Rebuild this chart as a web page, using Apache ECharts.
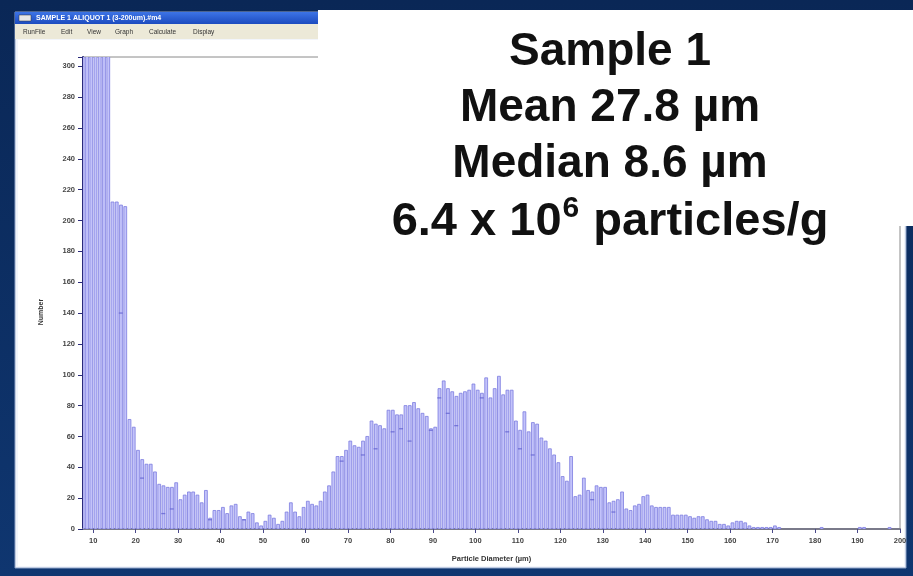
<!DOCTYPE html>
<html><head><meta charset="utf-8">
<script src="https://cdn.jsdelivr.net/npm/echarts@6/dist/echarts.min.js"></script>
<style>html,body{margin:0;padding:0;background:#0b2a5a;overflow:hidden;} #c{width:913px;height:576px;}</style>
</head><body><div id="c"></div>
<script>
// ---- data ----
const binStart = [7,8,9,10,11,12,13,14,15,16,17,18,19,20,21,22,23,24,25,26,27,28,29,30,31,32,33,34,35,36,37,38,39,40,41,42,43,44,45,46,47,48,49,50,51,52,53,54,55,56,57,58,59,60,61,62,63,64,65,66,67,68,69,70,71,72,73,74,75,76,77,78,79,80,81,82,83,84,85,86,87,88,89,90,91,92,93,94,95,96,97,98,99,100,101,102,103,104,105,106,107,108,109,110,111,112,113,114,115,116,117,118,119,120,121,122,123,124,125,126,127,128,129,130,131,132,133,134,135,136,137,138,139,140,141,142,143,144,145,146,147,148,149,150,151,152,153,154,155,156,157,158,159,160,161,162,163,164,165,166,167,168,169,170,171,172,173,174,175,176,177,178,179,180,181,182,183,184,185,186,187,188,189,190,191,192,193,194,195,196,197,198,199];
const counts = [1500,1500,1400,1200,900,700,480,212,212,210,209,
71,66,51,45,42,42,37,29,28,27,
27,30,19,22,24,24,22,17,25,7,
12,12,14,10,15,16,8,6,11,10,
4,2,5,9,7,3,5,11,17,11,
8,14,18,16,15,18,24,28,37,47,
47,51,57,54,53,57,60,70,68,67,
65,77,77,74,74,80,80,82,78,75,
73,65,66,91,96,91,89,86,88,89,
90,94,90,88,98,85,91,99,87,90,
90,70,64,76,63,69,68,59,57,52,
48,43,34,31,47,21,22,33,25,24,
28,27,27,17,18,19,24,13,12,15,
16,21,22,15,14,14,14,14,9,9,
9,9,8,7,8,8,6,5,5,3,
3,2,4,5,5,4,2,1,1,1,
1,1,2,1,0,0,0,0,0,0,
0,0,0,1,0,0,0,0,0,0,
0,0,1,1,0,0,0,0,0,1,0];
// second set of marks (small dashes inside bars)
const markX = [16.5,21.5,26.5,28.5,37.5,45.5,68.5,73.5,76.5,80.5,82.5,84.5,89.5,91.5,93.5,95.5,101.5,107.5,110.5,113.5,127.5,132.5];
const markY = [140,33,10,13,6,6,44,48,52,63,65,57,64,85,75,67,85,63,52,48,19,11];
const yTickStep = 20;
const titleText = 'SAMPLE 1 ALIQUOT 1 (3-200um).#m4';
const menuItems = ['RunFile','Edit','View','Graph','Calculate','Display'];
const menuX = [23,61,87,115,149,193];
const infoLines = ['Sample 1','Mean 27.8 µm','Median 8.6 µm'];
const xName = 'Particle Diameter (µm)';
const yName = 'Number';

const barData = binStart.map((b,i)=>[b, counts[i]]);
const markData = markX.map((x,i)=>[x, markY[i]]);

const chart = echarts.init(document.getElementById('c'), null, {renderer:'canvas'});
const FONT = '"Liberation Sans", Arial, sans-serif';
const graphics = [
  {type:'rect', z:-30, shape:{x:0,y:0,width:913,height:576}, style:{fill:new echarts.graphic.LinearGradient(0,0,0,1,[{offset:0,color:'#0a2756'},{offset:1,color:'#0f3670'}])}},
  {type:'rect', z:-20, shape:{x:15,y:12,width:891,height:556}, style:{fill:'#f2f5fb', stroke:'#8ea3c8', lineWidth:1}},
  {type:'rect', z:-19, shape:{x:15,y:12,width:891,height:12}, style:{fill:new echarts.graphic.LinearGradient(0,0,0,1,[{offset:0,color:'#3d74e6'},{offset:1,color:'#1c4bbf'}])}},
  {type:'rect', z:-18, shape:{x:19,y:15,width:12,height:6}, style:{fill:'#e6e6e6', stroke:'#333', lineWidth:0.5}},
  {type:'text', z:-18, x:36, y:18, style:{text:titleText, fill:'#ffffff', font:'bold 7px '+FONT, verticalAlign:'middle'}},
  {type:'rect', z:-19, shape:{x:15,y:24,width:891,height:15}, style:{fill:'#ece9d8'}},
  {type:'rect', z:-19, shape:{x:18,y:40,width:886,height:526}, style:{fill:'#ffffff'}}
];
menuItems.forEach((m,i)=>graphics.push({type:'text', z:-17, x:menuX[i], y:32, style:{text:m, fill:'#333', font:'6.5px '+FONT, verticalAlign:'middle'}}));
graphics.push({type:'text', z:5, x:41, y:312, rotation:Math.PI/2, style:{text:yName, fill:'#333', font:'bold 7px '+FONT, align:'center', verticalAlign:'middle'}});
// info box
graphics.push({type:'rect', z:100, shape:{x:318,y:10,width:600,height:216}, style:{fill:'#ffffff'}});
const lineY = [52,108,164];
infoLines.forEach((t,i)=>graphics.push({type:'text', z:101, x:610, y:lineY[i], style:{text:t, fill:'#111', font:'bold 46px '+FONT, align:'center', verticalAlign:'middle'}}));
graphics.push({type:'text', z:101, x:610, y:222, style:{
  text:'6.4 x 10{sup|6} particles/g', fill:'#111', font:'bold 47px '+FONT, align:'center', verticalAlign:'middle',
  rich:{sup:{fill:'#111', font:'bold 30px '+FONT, verticalAlign:'top', lineHeight:56, padding:[0,1,24,1]}}
}});

const option = {
  animation:false,
  backgroundColor:'transparent',
  graphic: graphics,
  grid:{left:83, right:13, top:57, bottom:47, show:true, borderColor:'#8a8a8a', borderWidth:1, backgroundColor:'#ffffff'},
  xAxis:{
    type:'value', min:7.6, max:200, splitNumber:20, minInterval:10, maxInterval:10,
    name:xName, nameLocation:'middle', nameGap:26,
    nameTextStyle:{fontFamily:FONT, fontWeight:'bold', fontSize:7.5, color:'#333'},
    axisLine:{show:true, lineStyle:{color:'#7a7a8a', width:2}},
    axisTick:{show:true, length:4, lineStyle:{color:'#4a4a8a', width:1}},
    axisLabel:{margin:8, fontFamily:FONT, fontWeight:'bold', fontSize:7.5, color:'#444', showMinLabel:false,
      formatter:v=> (Math.abs(v%10)<1e-6 ? String(v) : '')},
    splitLine:{show:false}
  },
  yAxis:{
    type:'value', min:0, max:306, interval:yTickStep,
    axisLine:{show:true, lineStyle:{color:'#2a2a7a', width:2}},
    axisTick:{show:true, length:5, lineStyle:{color:'#2a2a7a', width:1}},
    axisLabel:{margin:8, fontFamily:FONT, fontWeight:'bold', fontSize:7.5, color:'#444',
      formatter:v=> (v%yTickStep===0 ? String(v) : '')},
    splitLine:{show:false}
  },
  series:[
    {type:'custom', clip:true, z:2, data:barData,
      renderItem:(params, api)=>{
        const d = api.value(0), v = api.value(1);
        if (!(v>0)) return null;
        const p0 = api.coord([d, v]);
        const p1 = api.coord([d+1, 0]);
        return {type:'rect', shape:{x:p0[0]+0.9, y:p0[1], width:p1[0]-p0[0]-1.4, height:p1[1]-p0[1]},
          style:{fill:'#c3c3fa', stroke:'#7c7ce0', lineWidth:0.8}};
      }},
    {type:'scatter', z:3, data:markData, symbol:'rect', symbolSize:[4,1.3], itemStyle:{color:'#6464d2'}, silent:true}
  ]
};
chart.setOption(option);
</script></body></html>
